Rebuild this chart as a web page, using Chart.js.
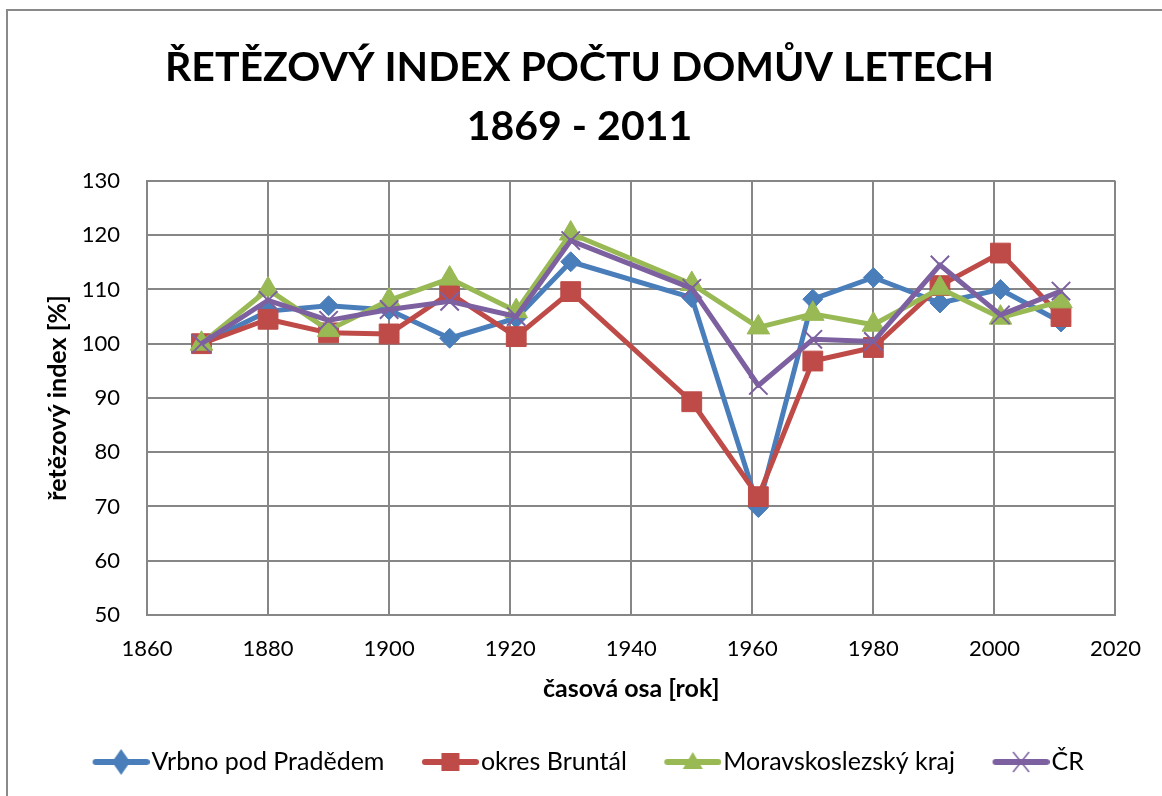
<!DOCTYPE html>
<html lang="cs">
<head>
<meta charset="utf-8">
<title>Řetězový index počtu domů</title>
<script src="https://cdn.jsdelivr.net/npm/chart.js@4/dist/chart.umd.min.js"></script>
<style>
  html, body { margin: 0; padding: 0; background: #fff; overflow: hidden; }
  #wrap { position: relative; width: 1162px; height: 796px; }
  #frame { position: absolute; left: 6px; top: 9px; width: 1200px; height: 900px; border: 2px solid #8a8a8a; }
  canvas { position: absolute; left: 0; top: 0; }
</style>
</head>
<body>
<div id="wrap">
  <div id="frame"></div>
  <canvas id="chart" width="1162" height="796"></canvas>
</div>
<script>
// census years and chain index values (%)
const years = [1869, 1880, 1890, 1900, 1910, 1921, 1930, 1950, 1961, 1970, 1980, 1991, 2001, 2011];
const vrbno = [100, 106, 107, 106.2, 101, 104.7, 115.1, 108.5, 69.8, 108.2, 112.2, 107.5, 110, 104];
const bruntal = [100, 104.5, 102, 101.8, 109.3, 101.3, 109.6, 89.3, 71.8, 96.8, 99.3, 110.7, 116.7, 105];
const msk = [100, 110, 102.5, 108, 112, 106, 120.3, 111, 103, 105.5, 103.5, 110.2, 104.8, 107.8];
const cr = [100, 108, 104.3, 106.3, 107.8, 105, 119, 110.2, 92.3, 100.8, 100.4, 114.5, 105.3, 109.7];

const seriesNames = ['Vrbno pod Pradědem', 'okres Bruntál', 'Moravskoslezský kraj', 'ČR'];
const xTicks = [1860, 2020, 20];   // min, max, step
const yTicks = [50, 130, 10];

const FONT = 'Lato, "Open Sans", sans-serif';
const GRID = '#868686';
const LEG_BOX = 64;   // legend box width, icon is drawn on its right side

// legend glyph: line with the marker in the middle, sitting right before the text
function legendIcon(color, kind) {
  const c = document.createElement('canvas');
  c.width = LEG_BOX + 21; c.height = 30;
  const g = c.getContext('2d');
  const x0 = LEG_BOX - 33, x1 = LEG_BOX + 18, cx = (x0 + x1) / 2, cy = 15;
  g.strokeStyle = color; g.fillStyle = color;
  g.lineWidth = 6; g.lineCap = 'round';
  g.beginPath(); g.moveTo(x0, cy); g.lineTo(x1, cy); g.stroke();
  g.beginPath();
  if (kind === 'diamond') {
    g.moveTo(cx, cy - 13); g.lineTo(cx + 9, cy); g.lineTo(cx, cy + 13); g.lineTo(cx - 9, cy); g.closePath(); g.fill();
  } else if (kind === 'square') {
    g.rect(cx - 9, cy - 9, 18, 18); g.fill();
  } else if (kind === 'triangle') {
    g.moveTo(cx, cy - 10); g.lineTo(cx + 10, cy + 7); g.lineTo(cx - 10, cy + 7); g.closePath(); g.fill();
  } else {
    g.lineWidth = 1.5; g.lineCap = 'butt';
    g.moveTo(cx - 8, cy - 10); g.lineTo(cx + 8, cy + 10);
    g.moveTo(cx + 8, cy - 10); g.lineTo(cx - 8, cy + 10); g.stroke();
  }
  return c;
}

function series(label, values, color, style, radius, bw, order, icon) {
  return {
    label: label,
    data: years.map((y, i) => ({ x: y, y: values[i] })),
    borderColor: color,
    backgroundColor: color,
    borderWidth: 5,
    borderJoinStyle: 'round',
    pointStyle: style,
    pointRadius: radius,
    pointHoverRadius: radius,
    pointBackgroundColor: color,
    pointBorderColor: color,
    pointBorderWidth: bw,
    order: order,
    icon: legendIcon(color, icon)
  };
}

const ctx = document.getElementById('chart').getContext('2d');
new Chart(ctx, {
  type: 'line',
  data: {
    datasets: [
      series(seriesNames[0], vrbno, '#4A7EBB', 'rectRot', 10, 1, 4, 'diamond'),
      series(seriesNames[1], bruntal, '#BE4B48', 'rect', 14, 1, 3, 'square'),
      series(seriesNames[2], msk, '#98B954', 'triangle', 13, 1, 2, 'triangle'),
      series(seriesNames[3], cr, '#7D60A0', 'crossRot', 13, 2, 1, 'cross')
    ]
  },
  options: {
    responsive: false,
    animation: false,
    layout: { padding: { left: 43, right: 46, top: 0, bottom: 11.5 } },
    plugins: {
      title: {
        display: true,
        text: ['ŘETĚZOVÝ INDEX POČTU DOMŮV LETECH', '1869 - 2011'],
        color: '#000',
        font: { family: FONT, size: 41, weight: 'bold', lineHeight: 1.45 },
        padding: { top: 38, bottom: 24 }
      },
      legend: {
        position: 'bottom',
        labels: {
          usePointStyle: true,
          pointStyleWidth: LEG_BOX,
          padding: 20,
          color: '#000',
          font: { family: FONT, size: 25 },
          generateLabels: (chart) => chart.data.datasets.map((ds, i) => ({
            text: ds.label,
            pointStyle: ds.icon,
            fillStyle: ds.borderColor,
            strokeStyle: ds.borderColor,
            lineWidth: 0,
            fontColor: '#000',
            hidden: false,
            datasetIndex: i
          }))
        }
      },
      tooltip: { enabled: false }
    },
    scales: {
      x: {
        type: 'linear',
        min: xTicks[0], max: xTicks[1],
        afterFit: (s) => { s.height = 114.5; },
        ticks: {
          stepSize: xTicks[2], color: '#000', padding: 21,
          font: { family: FONT, size: 22 },
          callback: (v) => String(v)
        },
        grid: { color: GRID, lineWidth: 2, drawTicks: false },
        border: { color: GRID, width: 2 },
        title: {
          display: true, text: 'časová osa [rok]', color: '#000',
          font: { family: FONT, size: 25, weight: 'bold' },
          padding: { top: 0, bottom: 25.5 }
        }
      },
      y: {
        min: yTicks[0], max: yTicks[1],
        afterFit: (s) => { s.width = 104; },
        ticks: {
          stepSize: yTicks[2], color: '#000', padding: 27,
          font: { family: FONT, size: 22 }
        },
        grid: { color: GRID, lineWidth: 2, drawTicks: false },
        border: { color: GRID, width: 2 },
        title: {
          display: true, text: 'řetězový index [%]', color: '#000',
          font: { family: FONT, size: 25, weight: 'bold' },
          padding: { top: 0, bottom: 0 }
        }
      }
    }
  }
});
</script>
</body>
</html>
